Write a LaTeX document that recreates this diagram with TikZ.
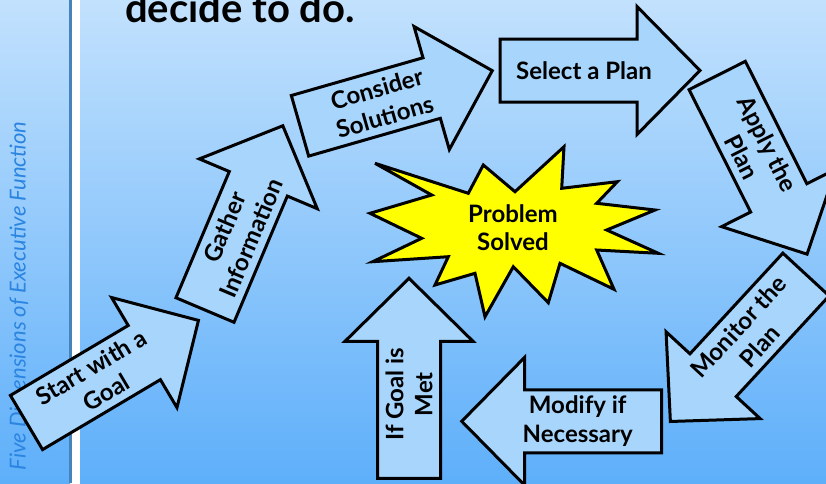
\documentclass[tikz,border=0pt]{standalone}
\usepackage{fontspec}
\setmainfont{Lato}
\definecolor{arrowfill}{HTML}{A8D5FC}
\definecolor{bgtop}{HTML}{C2E1FD}
\definecolor{bgbot}{HTML}{5EAFFA}
\definecolor{sideblue}{HTML}{2A84E0}
\definecolor{starfill}{HTML}{FFFF00}
\newcommand\flowarrow[6]{%
  \begin{scope}[shift={(#2,#3)},rotate=#4]
    \draw[arrowshape] (0,-31.5) -- (137,-31.5) -- (137,-64) -- (200,0) -- (137,64) -- (137,31.5) -- (0,31.5) -- cycle;
    \node[arrowtext,rotate=#5] (#1) at (84,0) {#6};
  \end{scope}}
\begin{document}
\begin{tikzpicture}[x=1pt,y=-1pt,
  arrowshape/.style={draw=black,line width=3pt,fill=arrowfill,line join=miter},
  arrowtext/.style={font=\bfseries\fontsize{24}{29}\selectfont,align=center,text=black,inner sep=0pt},
  startext/.style={font=\bfseries\fontsize{24}{28}\selectfont,align=center,text=black,inner sep=0pt}]
\useasboundingbox (0,0) rectangle (826,483);
\clip (0,0) rectangle (826,483);
% backgrounds
\shade[top color=bgtop,bottom color=bgbot] (0,0) rectangle (70,483);
\fill[black!25!bgbot] (69,0) rectangle (72,483);
\fill[white] (72,0) rectangle (80,483);
\shade[top color=bgtop,bottom color=bgbot] (80,0) rectangle (826,483);
% side title
\node[rotate=90,font=\itshape\fontsize{22}{24}\selectfont,text=sideblue,inner sep=0pt] (side) at (19,296) {Five Dimensions of Executive Function};
% title
\node[anchor=base west,font=\bfseries\fontsize{40}{44}\selectfont,inner sep=0pt] (title) at (125,22) {decide to do.};
% arrows
\flowarrow{start}{26.5}{422.5}{30.7}{30.7}{Start with a\\Goal}
\flowarrow{gather}{205}{310}{67.1}{67.1}{Gather\\Information}
\flowarrow{consider}{300}{125.8}{16}{16}{Consider\\Solutions}
\flowarrow{select}{500}{70.5}{0}{0}{Select a Plan}
\flowarrow{apply}{717.2}{75.5}{-63.3}{-63.3}{Apply the\\Plan}
\flowarrow{monitor}{806}{274.5}{-132.7}{47.3}{Monitor the\\Plan}
\flowarrow{modify}{661.7}{421.3}{180}{0}{Modify if\\Necessary}
\flowarrow{goalmet}{409}{478.3}{90}{90}{If Goal is\\Met}
% star
\draw[line width=3pt,fill=starfill,line join=miter]
  (375,163.3) -- (468.3,193.3) -- (483.3,165) -- (515,191.7) -- (564,146.7) -- (561.7,188.3)
  -- (617.3,181.7) -- (596.7,203.3) -- (655,210) -- (606.7,230) -- (658.3,253.3) -- (596.7,250)
  -- (614,289.3) -- (560,263.3) -- (548.3,302.7) -- (513.3,266.7) -- (485,316.7) -- (475,273.3)
  -- (435,285) -- (448.3,256.7) -- (372.7,261.7) -- (421.7,238.3) -- (370,213.3) -- (431.7,195) -- cycle;
\node[startext] (solved) at (513,228) {Problem\\Solved};
\end{tikzpicture}
\end{document}
